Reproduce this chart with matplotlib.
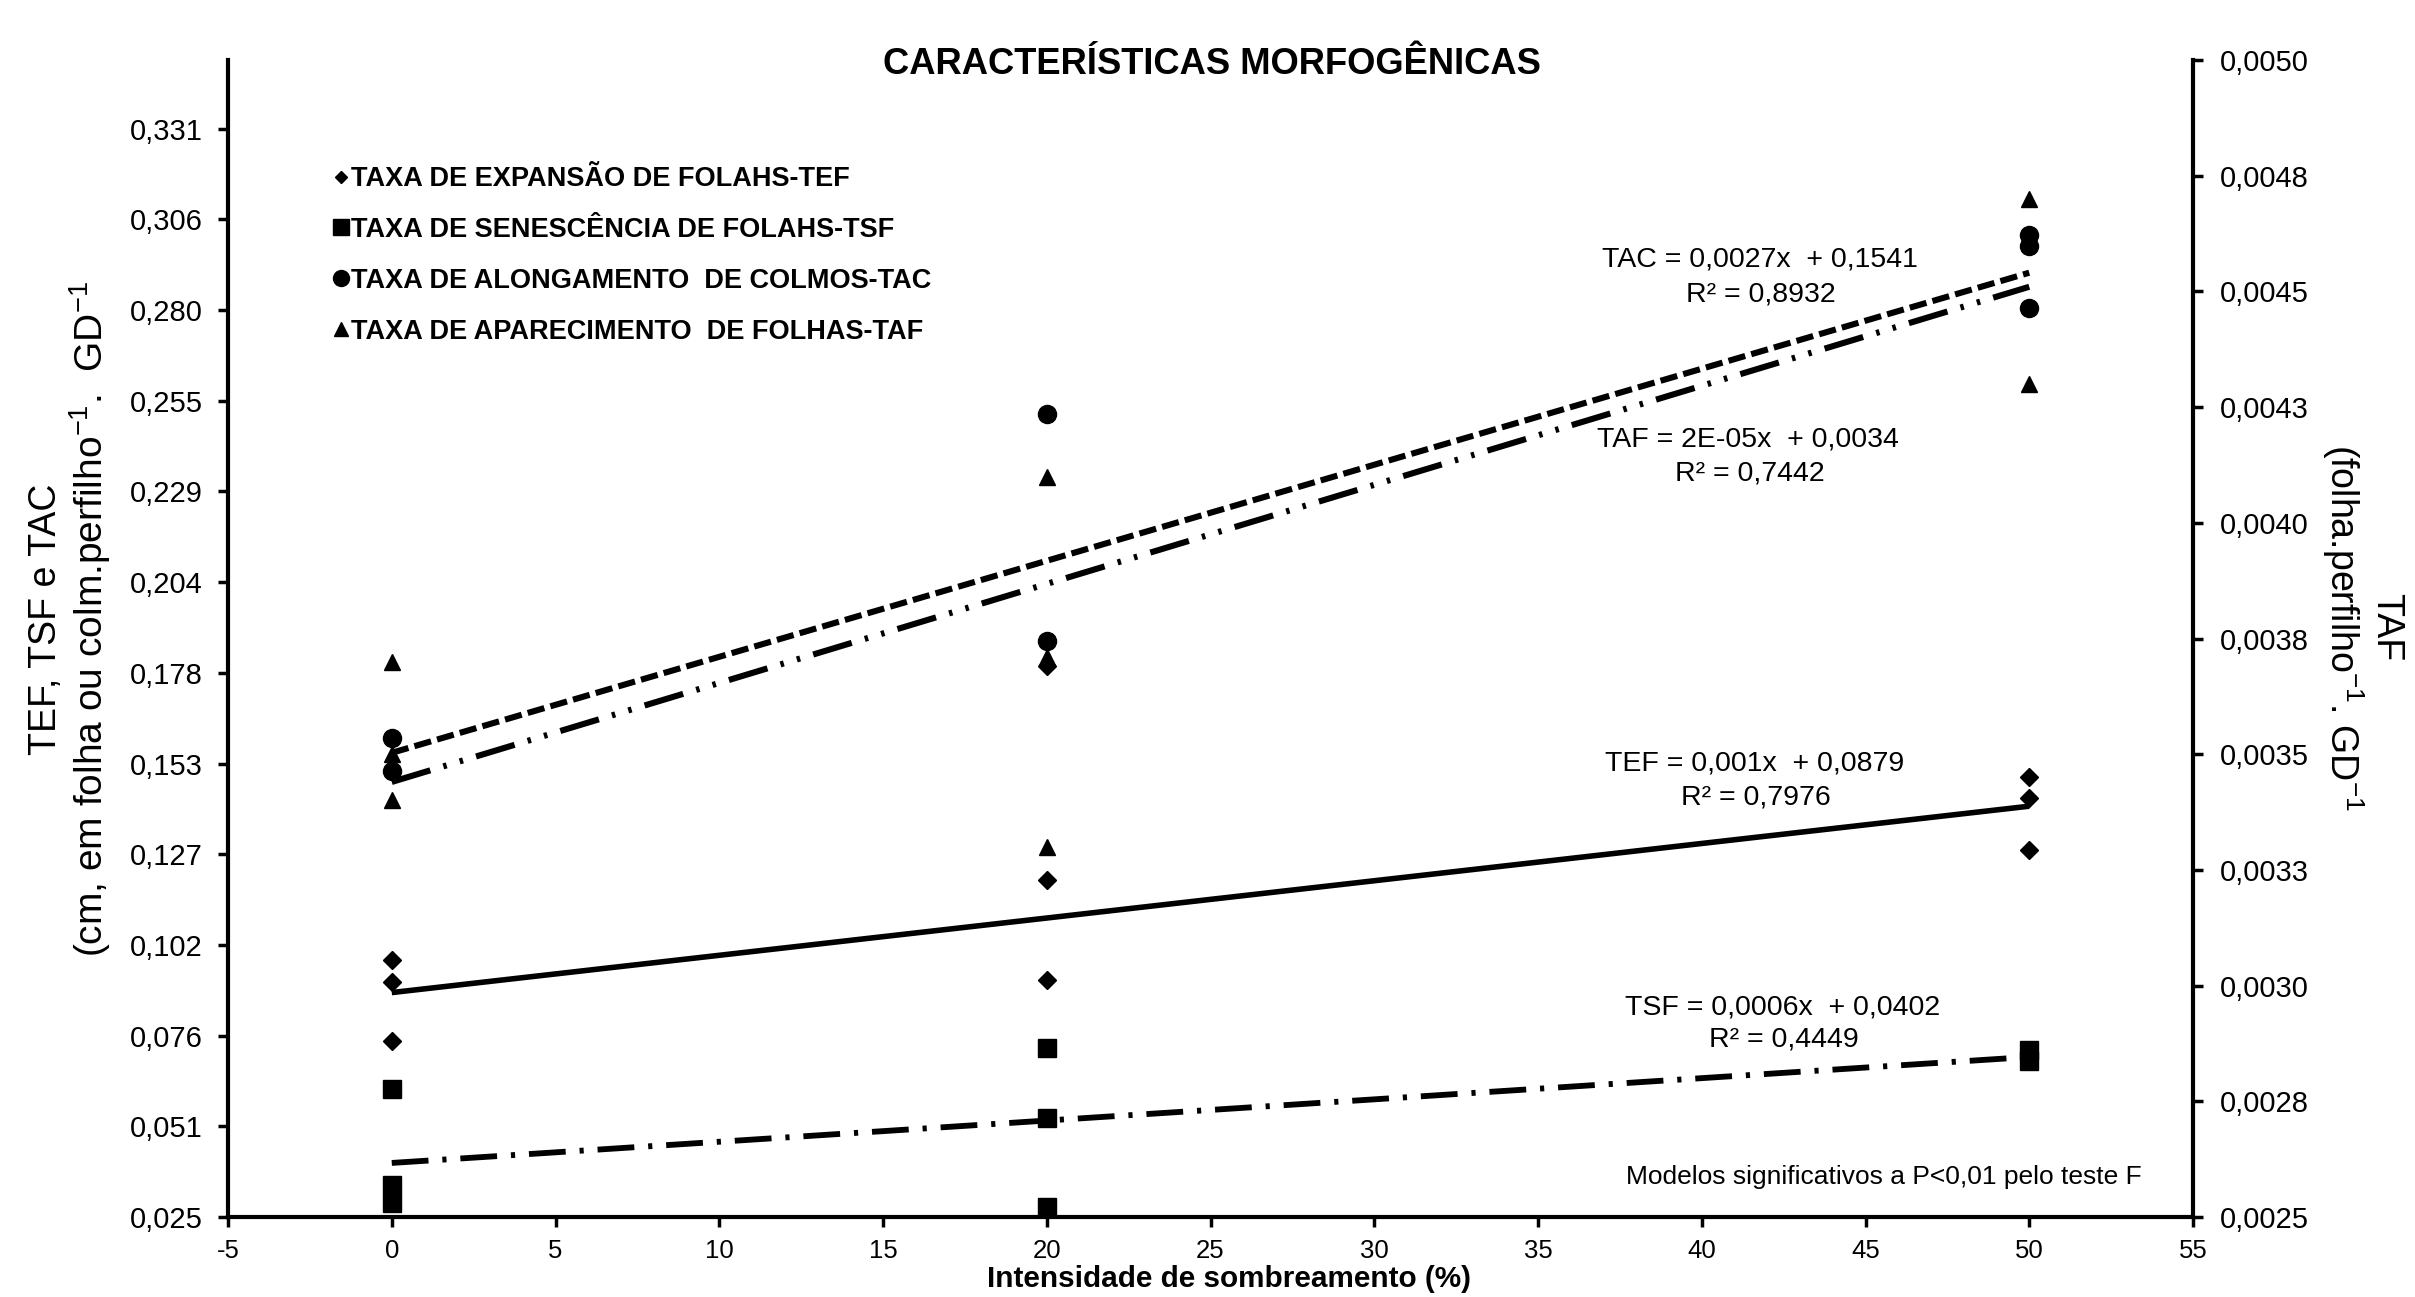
import matplotlib
matplotlib.use('Agg')
import matplotlib.pyplot as plt
from matplotlib.lines import Line2D

plt.rcParams['font.family'] = ['Liberation Sans', 'DejaVu Sans']
plt.rcParams['mathtext.fontset'] = 'custom'
plt.rcParams['mathtext.rm'] = 'Liberation Sans'
plt.rcParams['mathtext.it'] = 'Liberation Sans:italic'
plt.rcParams['mathtext.bf'] = 'Liberation Sans:bold'
plt.rcParams['lines.scale_dashes'] = False

# ---------------- data ----------------
tef_x = [0, 0, 0, 20, 20, 20, 50, 50, 50]
tef_y = [0.0973, 0.0910, 0.0745, 0.1798, 0.1197, 0.0916, 0.1487, 0.1429, 0.1283]

tsf_x = [0, 0, 0, 20, 20, 20, 50, 50]
tsf_y = [0.0610, 0.0340, 0.0290, 0.0725, 0.0528, 0.0279, 0.0719, 0.0689]

tac_x = [0, 0, 20, 20, 50, 50, 50]
tac_y = [0.1598, 0.1505, 0.2509, 0.1869, 0.3010, 0.2980, 0.2805]

taf_x = [0, 0, 0, 20, 20, 20, 50, 50]
taf_y = [0.00370, 0.00350, 0.00340, 0.00410, 0.00371, 0.00330, 0.00470, 0.00430]

trend_x = [0, 50]
tef_fit = [0.0881, 0.1405]
tsf_fit = [0.0402, 0.0700]
tac_fit = [0.1555, 0.2905]
taf_fit = [0.00344, 0.00451]

x_ticks = [-5, 0, 5, 10, 15, 20, 25, 30, 35, 40, 45, 50, 55]
x_tick_labels = ['-5', '0', '5', '10', '15', '20', '25', '30', '35', '40', '45', '50', '55']
left_tick_labels = ['0,025', '0,051', '0,076', '0,102', '0,127', '0,153', '0,178',
                    '0,204', '0,229', '0,255', '0,280', '0,306', '0,331']
right_tick_labels = ['0,0025', '0,0028', '0,0030', '0,0033', '0,0035', '0,0038',
                     '0,0040', '0,0043', '0,0045', '0,0048', '0,0050']

legend_labels = ['TAXA DE EXPANSÃO DE FOLAHS-TEF',
                 'TAXA DE SENESCÊNCIA DE FOLAHS-TSF',
                 'TAXA DE ALONGAMENTO  DE COLMOS-TAC',
                 'TAXA DE APARECIMENTO  DE FOLHAS-TAF']

eq_lines = [
    ('TAC = 0,0027x  + 0,1541', 'R² = 0,8932'),
    ('TAF = 2E-05x  + 0,0034', 'R² = 0,7442'),
    ('TEF = 0,001x  + 0,0879', 'R² = 0,7976'),
    ('TSF = 0,0006x  + 0,0402', 'R² = 0,4449'),
]

# ---------------- figure ----------------
W, H = 2415, 1297
fig = plt.figure(figsize=(W / 100, H / 100), dpi=100)

def fx(px):
    return px / W

def fy(py):
    return 1 - py / H

ax = fig.add_axes([fx(228), fy(1217), fx(2193) - fx(228), fy(60) - fy(1217)])
ax2 = ax.twinx()

left_ticks = [0.025 + 0.0255 * k for k in range(len(left_tick_labels))]
right_ticks = [0.0025 + 0.00025 * k for k in range(len(right_tick_labels))]

ax.set_xlim(-5, 55)
ax.set_ylim(0.025, 0.3503)
ax2.set_ylim(0.0025, 0.0050)

ax.set_xticks(x_ticks)
ax.set_xticklabels(x_tick_labels)
ax.set_yticks(left_ticks)
ax.set_yticklabels(left_tick_labels)
ax2.set_yticks(right_ticks)
ax2.set_yticklabels(right_tick_labels)

for a in (ax, ax2):
    a.spines['top'].set_visible(False)
    for s in a.spines.values():
        s.set_linewidth(3)
        s.set_color('black')
ax2.spines['left'].set_visible(False)
ax2.spines['bottom'].set_visible(False)
ax.spines['right'].set_visible(False)

ax.tick_params(axis='y', direction='out', length=7, width=2.5, pad=11, labelsize=21)
ax.tick_params(axis='x', direction='out', length=7, width=2.5, pad=9, labelsize=18.5)
ax2.tick_params(axis='y', direction='out', length=7, width=2.5, pad=12, labelsize=21)

# scatter points
ax.plot(tef_x, tef_y, ls='none', marker='D', ms=9, color='black', zorder=3)
ax.plot(tsf_x, tsf_y, ls='none', marker='s', ms=13, color='black', zorder=3)
ax.plot(tac_x, tac_y, ls='none', marker='o', ms=13, color='black', zorder=3)
ax2.plot(taf_x, taf_y, ls='none', marker='^', ms=12, color='black', zorder=3)

# trend lines
ax.plot(trend_x, tef_fit, color='black', lw=4, solid_capstyle='butt', zorder=4)
ax.plot(trend_x, tsf_fit, color='black', lw=4.2, dashes=(26.5, 10, 3, 10),
        dash_capstyle='butt', zorder=4)
ax.plot(trend_x, tac_fit, color='black', lw=4.4, dashes=(12.5, 4.5),
        dash_capstyle='butt', zorder=4)
ax2.plot(trend_x, taf_fit, color='black', lw=4.4, dashes=(29, 9.8, 2.5, 9.8, 2.5, 9.8),
         dash_capstyle='butt', zorder=4)

# legend
handles = [
    Line2D([], [], ls='none', marker='D', ms=6.5, color='black'),
    Line2D([], [], ls='none', marker='s', ms=11.5, color='black'),
    Line2D([], [], ls='none', marker='o', ms=11.5, color='black'),
    Line2D([], [], ls='none', marker='^', ms=10, color='black'),
]
ax2.legend(handles, legend_labels, loc='upper left',
           bbox_to_anchor=(fx(333), fy(166)), bbox_transform=fig.transFigure,
           frameon=False, prop={'weight': 'bold', 'size': 19.5},
           handlelength=0.57, handletextpad=0.1, labelspacing=0.92,
           borderpad=0, borderaxespad=0, numpoints=1)

# title
fig.text(fx(1212), fy(64), 'CARACTERÍSTICAS MORFOGÊNICAS', ha='center', va='center',
         fontsize=26.2, fontweight='bold')

# equations
eq_pos = [((1760, 260), (1761, 295)),
          ((1748, 440), (1750, 474)),
          ((1755, 764), (1756, 798)),
          ((1783, 1007), (1784, 1040))]
for (l1, l2), (p1, p2) in zip(eq_lines, eq_pos):
    fig.text(fx(p1[0]), fy(p1[1]), l1, ha='center', va='center', fontsize=20.5)
    fig.text(fx(p2[0]), fy(p2[1]), l2, ha='center', va='center', fontsize=20.5)

fig.text(fx(1884), fy(1177), 'Modelos significativos a P<0,01 pelo teste F',
         ha='center', va='center', fontsize=19)

# axis labels
fig.text(fx(1229), fy(1279), 'Intensidade de sombreamento (%)', ha='center', va='center',
         fontsize=21.4, fontweight='bold')
fig.text(fx(46), fy(619), 'TEF, TSF e TAC', rotation=90, ha='center', va='center',
         fontsize=27)
fig.text(fx(90), fy(619), '(cm, em folha ou colm.perfilho$^{-1}$.  GD$^{-1}$',
         rotation=90, ha='center', va='center', fontsize=28)
fig.text(fx(2386), fy(627), 'TAF', rotation=270, ha='center', va='center', fontsize=27)
fig.text(fx(2343), fy(627), '(folha.perfilho$^{-1}$. GD$^{-1}$', rotation=270,
         ha='center', va='center', fontsize=27)

fig.savefig('out.png', dpi=100)
